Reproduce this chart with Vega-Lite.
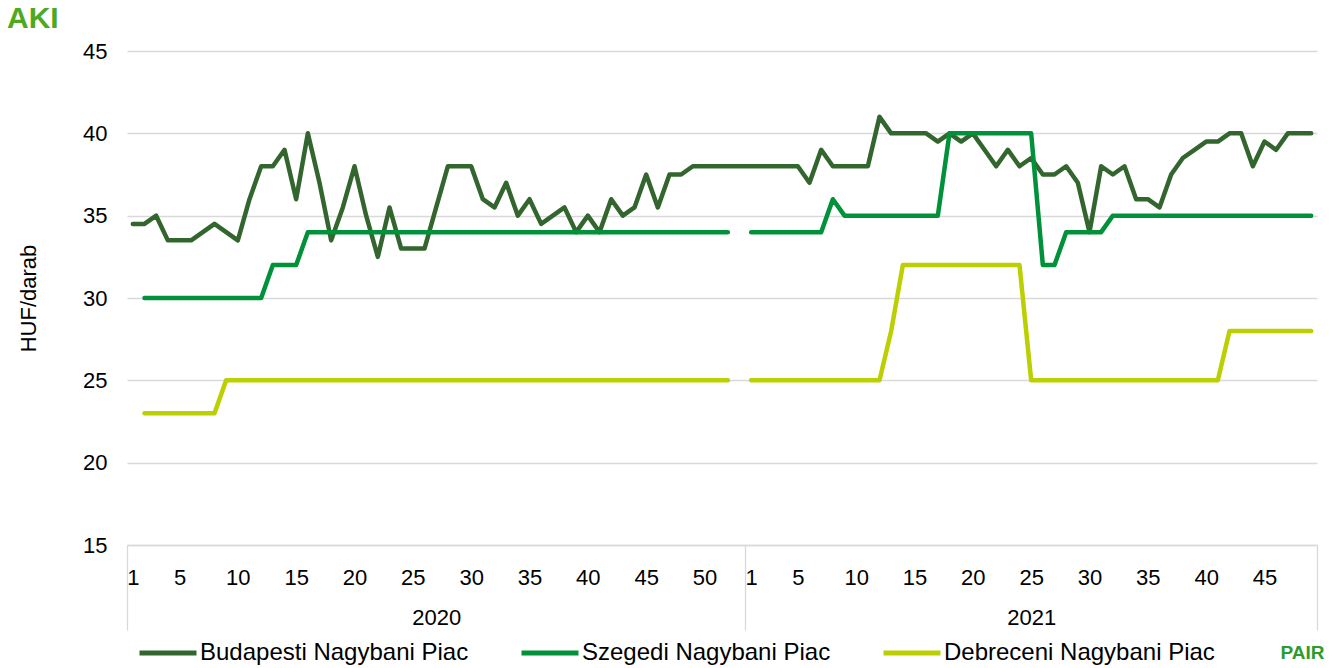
{
  "$schema": "https://vega.github.io/schema/vega-lite/v6.json",
  "width": 1190,
  "height": 494,
  "autosize": {"type": "none"},
  "padding": {"left": 127, "top": 51, "right": 19, "bottom": 123},
  "background": "white",
  "config": {"view": {"stroke": null}, "font": "Liberation Sans"},
  "title": {"text": "AKI", "anchor": "start", "frame": "group", "dx": -120, "offset": 6, "fontSize": 30, "fontWeight": "bold", "color": "#4DAA1E", "font": "Liberation Sans"},
  "data": {"values": [
    {"i":1,"year":2020,"week":1,"Budapesti Nagybani Piac":34.5,"Szegedi Nagybani Piac":null,"Debreceni Nagybani Piac":null},
    {"i":2,"year":2020,"week":2,"Budapesti Nagybani Piac":34.5,"Szegedi Nagybani Piac":30,"Debreceni Nagybani Piac":23},
    {"i":3,"year":2020,"week":3,"Budapesti Nagybani Piac":35,"Szegedi Nagybani Piac":30,"Debreceni Nagybani Piac":23},
    {"i":4,"year":2020,"week":4,"Budapesti Nagybani Piac":33.5,"Szegedi Nagybani Piac":30,"Debreceni Nagybani Piac":23},
    {"i":5,"year":2020,"week":5,"Budapesti Nagybani Piac":33.5,"Szegedi Nagybani Piac":30,"Debreceni Nagybani Piac":23},
    {"i":6,"year":2020,"week":6,"Budapesti Nagybani Piac":33.5,"Szegedi Nagybani Piac":30,"Debreceni Nagybani Piac":23},
    {"i":7,"year":2020,"week":7,"Budapesti Nagybani Piac":34,"Szegedi Nagybani Piac":30,"Debreceni Nagybani Piac":23},
    {"i":8,"year":2020,"week":8,"Budapesti Nagybani Piac":34.5,"Szegedi Nagybani Piac":30,"Debreceni Nagybani Piac":23},
    {"i":9,"year":2020,"week":9,"Budapesti Nagybani Piac":34,"Szegedi Nagybani Piac":30,"Debreceni Nagybani Piac":25},
    {"i":10,"year":2020,"week":10,"Budapesti Nagybani Piac":33.5,"Szegedi Nagybani Piac":30,"Debreceni Nagybani Piac":25},
    {"i":11,"year":2020,"week":11,"Budapesti Nagybani Piac":36,"Szegedi Nagybani Piac":30,"Debreceni Nagybani Piac":25},
    {"i":12,"year":2020,"week":12,"Budapesti Nagybani Piac":38,"Szegedi Nagybani Piac":30,"Debreceni Nagybani Piac":25},
    {"i":13,"year":2020,"week":13,"Budapesti Nagybani Piac":38,"Szegedi Nagybani Piac":32,"Debreceni Nagybani Piac":25},
    {"i":14,"year":2020,"week":14,"Budapesti Nagybani Piac":39,"Szegedi Nagybani Piac":32,"Debreceni Nagybani Piac":25},
    {"i":15,"year":2020,"week":15,"Budapesti Nagybani Piac":36,"Szegedi Nagybani Piac":32,"Debreceni Nagybani Piac":25},
    {"i":16,"year":2020,"week":16,"Budapesti Nagybani Piac":40,"Szegedi Nagybani Piac":34,"Debreceni Nagybani Piac":25},
    {"i":17,"year":2020,"week":17,"Budapesti Nagybani Piac":37,"Szegedi Nagybani Piac":34,"Debreceni Nagybani Piac":25},
    {"i":18,"year":2020,"week":18,"Budapesti Nagybani Piac":33.5,"Szegedi Nagybani Piac":34,"Debreceni Nagybani Piac":25},
    {"i":19,"year":2020,"week":19,"Budapesti Nagybani Piac":35.5,"Szegedi Nagybani Piac":34,"Debreceni Nagybani Piac":25},
    {"i":20,"year":2020,"week":20,"Budapesti Nagybani Piac":38,"Szegedi Nagybani Piac":34,"Debreceni Nagybani Piac":25},
    {"i":21,"year":2020,"week":21,"Budapesti Nagybani Piac":35,"Szegedi Nagybani Piac":34,"Debreceni Nagybani Piac":25},
    {"i":22,"year":2020,"week":22,"Budapesti Nagybani Piac":32.5,"Szegedi Nagybani Piac":34,"Debreceni Nagybani Piac":25},
    {"i":23,"year":2020,"week":23,"Budapesti Nagybani Piac":35.5,"Szegedi Nagybani Piac":34,"Debreceni Nagybani Piac":25},
    {"i":24,"year":2020,"week":24,"Budapesti Nagybani Piac":33,"Szegedi Nagybani Piac":34,"Debreceni Nagybani Piac":25},
    {"i":25,"year":2020,"week":25,"Budapesti Nagybani Piac":33,"Szegedi Nagybani Piac":34,"Debreceni Nagybani Piac":25},
    {"i":26,"year":2020,"week":26,"Budapesti Nagybani Piac":33,"Szegedi Nagybani Piac":34,"Debreceni Nagybani Piac":25},
    {"i":27,"year":2020,"week":27,"Budapesti Nagybani Piac":35.5,"Szegedi Nagybani Piac":34,"Debreceni Nagybani Piac":25},
    {"i":28,"year":2020,"week":28,"Budapesti Nagybani Piac":38,"Szegedi Nagybani Piac":34,"Debreceni Nagybani Piac":25},
    {"i":29,"year":2020,"week":29,"Budapesti Nagybani Piac":38,"Szegedi Nagybani Piac":34,"Debreceni Nagybani Piac":25},
    {"i":30,"year":2020,"week":30,"Budapesti Nagybani Piac":38,"Szegedi Nagybani Piac":34,"Debreceni Nagybani Piac":25},
    {"i":31,"year":2020,"week":31,"Budapesti Nagybani Piac":36,"Szegedi Nagybani Piac":34,"Debreceni Nagybani Piac":25},
    {"i":32,"year":2020,"week":32,"Budapesti Nagybani Piac":35.5,"Szegedi Nagybani Piac":34,"Debreceni Nagybani Piac":25},
    {"i":33,"year":2020,"week":33,"Budapesti Nagybani Piac":37,"Szegedi Nagybani Piac":34,"Debreceni Nagybani Piac":25},
    {"i":34,"year":2020,"week":34,"Budapesti Nagybani Piac":35,"Szegedi Nagybani Piac":34,"Debreceni Nagybani Piac":25},
    {"i":35,"year":2020,"week":35,"Budapesti Nagybani Piac":36,"Szegedi Nagybani Piac":34,"Debreceni Nagybani Piac":25},
    {"i":36,"year":2020,"week":36,"Budapesti Nagybani Piac":34.5,"Szegedi Nagybani Piac":34,"Debreceni Nagybani Piac":25},
    {"i":37,"year":2020,"week":37,"Budapesti Nagybani Piac":35,"Szegedi Nagybani Piac":34,"Debreceni Nagybani Piac":25},
    {"i":38,"year":2020,"week":38,"Budapesti Nagybani Piac":35.5,"Szegedi Nagybani Piac":34,"Debreceni Nagybani Piac":25},
    {"i":39,"year":2020,"week":39,"Budapesti Nagybani Piac":34,"Szegedi Nagybani Piac":34,"Debreceni Nagybani Piac":25},
    {"i":40,"year":2020,"week":40,"Budapesti Nagybani Piac":35,"Szegedi Nagybani Piac":34,"Debreceni Nagybani Piac":25},
    {"i":41,"year":2020,"week":41,"Budapesti Nagybani Piac":34,"Szegedi Nagybani Piac":34,"Debreceni Nagybani Piac":25},
    {"i":42,"year":2020,"week":42,"Budapesti Nagybani Piac":36,"Szegedi Nagybani Piac":34,"Debreceni Nagybani Piac":25},
    {"i":43,"year":2020,"week":43,"Budapesti Nagybani Piac":35,"Szegedi Nagybani Piac":34,"Debreceni Nagybani Piac":25},
    {"i":44,"year":2020,"week":44,"Budapesti Nagybani Piac":35.5,"Szegedi Nagybani Piac":34,"Debreceni Nagybani Piac":25},
    {"i":45,"year":2020,"week":45,"Budapesti Nagybani Piac":37.5,"Szegedi Nagybani Piac":34,"Debreceni Nagybani Piac":25},
    {"i":46,"year":2020,"week":46,"Budapesti Nagybani Piac":35.5,"Szegedi Nagybani Piac":34,"Debreceni Nagybani Piac":25},
    {"i":47,"year":2020,"week":47,"Budapesti Nagybani Piac":37.5,"Szegedi Nagybani Piac":34,"Debreceni Nagybani Piac":25},
    {"i":48,"year":2020,"week":48,"Budapesti Nagybani Piac":37.5,"Szegedi Nagybani Piac":34,"Debreceni Nagybani Piac":25},
    {"i":49,"year":2020,"week":49,"Budapesti Nagybani Piac":38,"Szegedi Nagybani Piac":34,"Debreceni Nagybani Piac":25},
    {"i":50,"year":2020,"week":50,"Budapesti Nagybani Piac":38,"Szegedi Nagybani Piac":34,"Debreceni Nagybani Piac":25},
    {"i":51,"year":2020,"week":51,"Budapesti Nagybani Piac":38,"Szegedi Nagybani Piac":34,"Debreceni Nagybani Piac":25},
    {"i":52,"year":2020,"week":52,"Budapesti Nagybani Piac":38,"Szegedi Nagybani Piac":34,"Debreceni Nagybani Piac":25},
    {"i":53,"year":2020,"week":53,"Budapesti Nagybani Piac":38,"Szegedi Nagybani Piac":null,"Debreceni Nagybani Piac":null},
    {"i":54,"year":2021,"week":1,"Budapesti Nagybani Piac":38,"Szegedi Nagybani Piac":34,"Debreceni Nagybani Piac":25},
    {"i":55,"year":2021,"week":2,"Budapesti Nagybani Piac":38,"Szegedi Nagybani Piac":34,"Debreceni Nagybani Piac":25},
    {"i":56,"year":2021,"week":3,"Budapesti Nagybani Piac":38,"Szegedi Nagybani Piac":34,"Debreceni Nagybani Piac":25},
    {"i":57,"year":2021,"week":4,"Budapesti Nagybani Piac":38,"Szegedi Nagybani Piac":34,"Debreceni Nagybani Piac":25},
    {"i":58,"year":2021,"week":5,"Budapesti Nagybani Piac":38,"Szegedi Nagybani Piac":34,"Debreceni Nagybani Piac":25},
    {"i":59,"year":2021,"week":6,"Budapesti Nagybani Piac":37,"Szegedi Nagybani Piac":34,"Debreceni Nagybani Piac":25},
    {"i":60,"year":2021,"week":7,"Budapesti Nagybani Piac":39,"Szegedi Nagybani Piac":34,"Debreceni Nagybani Piac":25},
    {"i":61,"year":2021,"week":8,"Budapesti Nagybani Piac":38,"Szegedi Nagybani Piac":36,"Debreceni Nagybani Piac":25},
    {"i":62,"year":2021,"week":9,"Budapesti Nagybani Piac":38,"Szegedi Nagybani Piac":35,"Debreceni Nagybani Piac":25},
    {"i":63,"year":2021,"week":10,"Budapesti Nagybani Piac":38,"Szegedi Nagybani Piac":35,"Debreceni Nagybani Piac":25},
    {"i":64,"year":2021,"week":11,"Budapesti Nagybani Piac":38,"Szegedi Nagybani Piac":35,"Debreceni Nagybani Piac":25},
    {"i":65,"year":2021,"week":12,"Budapesti Nagybani Piac":41,"Szegedi Nagybani Piac":35,"Debreceni Nagybani Piac":25},
    {"i":66,"year":2021,"week":13,"Budapesti Nagybani Piac":40,"Szegedi Nagybani Piac":35,"Debreceni Nagybani Piac":28},
    {"i":67,"year":2021,"week":14,"Budapesti Nagybani Piac":40,"Szegedi Nagybani Piac":35,"Debreceni Nagybani Piac":32},
    {"i":68,"year":2021,"week":15,"Budapesti Nagybani Piac":40,"Szegedi Nagybani Piac":35,"Debreceni Nagybani Piac":32},
    {"i":69,"year":2021,"week":16,"Budapesti Nagybani Piac":40,"Szegedi Nagybani Piac":35,"Debreceni Nagybani Piac":32},
    {"i":70,"year":2021,"week":17,"Budapesti Nagybani Piac":39.5,"Szegedi Nagybani Piac":35,"Debreceni Nagybani Piac":32},
    {"i":71,"year":2021,"week":18,"Budapesti Nagybani Piac":40,"Szegedi Nagybani Piac":40,"Debreceni Nagybani Piac":32},
    {"i":72,"year":2021,"week":19,"Budapesti Nagybani Piac":39.5,"Szegedi Nagybani Piac":40,"Debreceni Nagybani Piac":32},
    {"i":73,"year":2021,"week":20,"Budapesti Nagybani Piac":40,"Szegedi Nagybani Piac":40,"Debreceni Nagybani Piac":32},
    {"i":74,"year":2021,"week":21,"Budapesti Nagybani Piac":39,"Szegedi Nagybani Piac":40,"Debreceni Nagybani Piac":32},
    {"i":75,"year":2021,"week":22,"Budapesti Nagybani Piac":38,"Szegedi Nagybani Piac":40,"Debreceni Nagybani Piac":32},
    {"i":76,"year":2021,"week":23,"Budapesti Nagybani Piac":39,"Szegedi Nagybani Piac":40,"Debreceni Nagybani Piac":32},
    {"i":77,"year":2021,"week":24,"Budapesti Nagybani Piac":38,"Szegedi Nagybani Piac":40,"Debreceni Nagybani Piac":32},
    {"i":78,"year":2021,"week":25,"Budapesti Nagybani Piac":38.5,"Szegedi Nagybani Piac":40,"Debreceni Nagybani Piac":25},
    {"i":79,"year":2021,"week":26,"Budapesti Nagybani Piac":37.5,"Szegedi Nagybani Piac":32,"Debreceni Nagybani Piac":25},
    {"i":80,"year":2021,"week":27,"Budapesti Nagybani Piac":37.5,"Szegedi Nagybani Piac":32,"Debreceni Nagybani Piac":25},
    {"i":81,"year":2021,"week":28,"Budapesti Nagybani Piac":38,"Szegedi Nagybani Piac":34,"Debreceni Nagybani Piac":25},
    {"i":82,"year":2021,"week":29,"Budapesti Nagybani Piac":37,"Szegedi Nagybani Piac":34,"Debreceni Nagybani Piac":25},
    {"i":83,"year":2021,"week":30,"Budapesti Nagybani Piac":34,"Szegedi Nagybani Piac":34,"Debreceni Nagybani Piac":25},
    {"i":84,"year":2021,"week":31,"Budapesti Nagybani Piac":38,"Szegedi Nagybani Piac":34,"Debreceni Nagybani Piac":25},
    {"i":85,"year":2021,"week":32,"Budapesti Nagybani Piac":37.5,"Szegedi Nagybani Piac":35,"Debreceni Nagybani Piac":25},
    {"i":86,"year":2021,"week":33,"Budapesti Nagybani Piac":38,"Szegedi Nagybani Piac":35,"Debreceni Nagybani Piac":25},
    {"i":87,"year":2021,"week":34,"Budapesti Nagybani Piac":36,"Szegedi Nagybani Piac":35,"Debreceni Nagybani Piac":25},
    {"i":88,"year":2021,"week":35,"Budapesti Nagybani Piac":36,"Szegedi Nagybani Piac":35,"Debreceni Nagybani Piac":25},
    {"i":89,"year":2021,"week":36,"Budapesti Nagybani Piac":35.5,"Szegedi Nagybani Piac":35,"Debreceni Nagybani Piac":25},
    {"i":90,"year":2021,"week":37,"Budapesti Nagybani Piac":37.5,"Szegedi Nagybani Piac":35,"Debreceni Nagybani Piac":25},
    {"i":91,"year":2021,"week":38,"Budapesti Nagybani Piac":38.5,"Szegedi Nagybani Piac":35,"Debreceni Nagybani Piac":25},
    {"i":92,"year":2021,"week":39,"Budapesti Nagybani Piac":39,"Szegedi Nagybani Piac":35,"Debreceni Nagybani Piac":25},
    {"i":93,"year":2021,"week":40,"Budapesti Nagybani Piac":39.5,"Szegedi Nagybani Piac":35,"Debreceni Nagybani Piac":25},
    {"i":94,"year":2021,"week":41,"Budapesti Nagybani Piac":39.5,"Szegedi Nagybani Piac":35,"Debreceni Nagybani Piac":25},
    {"i":95,"year":2021,"week":42,"Budapesti Nagybani Piac":40,"Szegedi Nagybani Piac":35,"Debreceni Nagybani Piac":28},
    {"i":96,"year":2021,"week":43,"Budapesti Nagybani Piac":40,"Szegedi Nagybani Piac":35,"Debreceni Nagybani Piac":28},
    {"i":97,"year":2021,"week":44,"Budapesti Nagybani Piac":38,"Szegedi Nagybani Piac":35,"Debreceni Nagybani Piac":28},
    {"i":98,"year":2021,"week":45,"Budapesti Nagybani Piac":39.5,"Szegedi Nagybani Piac":35,"Debreceni Nagybani Piac":28},
    {"i":99,"year":2021,"week":46,"Budapesti Nagybani Piac":39,"Szegedi Nagybani Piac":35,"Debreceni Nagybani Piac":28},
    {"i":100,"year":2021,"week":47,"Budapesti Nagybani Piac":40,"Szegedi Nagybani Piac":35,"Debreceni Nagybani Piac":28},
    {"i":101,"year":2021,"week":48,"Budapesti Nagybani Piac":40,"Szegedi Nagybani Piac":35,"Debreceni Nagybani Piac":28},
    {"i":102,"year":2021,"week":49,"Budapesti Nagybani Piac":40,"Szegedi Nagybani Piac":35,"Debreceni Nagybani Piac":28}
  ]},
  "transform": [
    {"fold": ["Budapesti Nagybani Piac", "Szegedi Nagybani Piac", "Debreceni Nagybani Piac"], "as": ["series", "value"]}
  ],
  "mark": {"type": "line", "strokeWidth": 4.5, "strokeCap": "round", "strokeJoin": "round", "invalid": "break-paths-filter-domains"},
  "encoding": {
    "x": {
      "field": "i", "type": "quantitative",
      "scale": {"domain": [0.5, 102.5], "nice": false, "zero": false},
      "axis": {
        "values": [0.5, 1, 5, 10, 15, 20, 25, 27, 30, 35, 40, 45, 50, 53.5, 54, 58, 63, 68, 73, 78, 83, 88, 93, 98, 102.5],
        "labelExpr": "datum.value % 1 != 0 ? '' : datum.value == 27 ? ['', '2020'] : datum.value == 78 ? ['25', '2021'] : datum.value <= 53 ? '' + datum.value : '' + (datum.value - 53)",
        "labelOverlap": false, "labelBound": false, "labelFlush": false,
        "labelFontSize": 22, "labelColor": "#000000", "labelLineHeight": 40, "labelFont": "Liberation Sans",
        "grid": false, "domain": true, "domainColor": "#D9D9D9", "domainWidth": 1.3,
        "ticks": true, "tickSize": 85, "tickColor": "#D9D9D9", "tickWidth": 1.3,
        "tickOpacity": {"condition": {"test": "datum.value % 1 != 0", "value": 1}, "value": 0},
        "labelPadding": -63,
        "title": "PAIR", "titleX": 1175, "titleY": 98, "titleFontSize": 19, "titleColor": "#2E9B2E", "titleFontWeight": "bold", "titleFont": "Liberation Sans", "titleAnchor": "middle", "titleAlign": "center"
      }
    },
    "y": {
      "field": "value", "type": "quantitative",
      "scale": {"domain": [15, 45], "nice": false, "zero": false},
      "axis": {
        "values": [15, 20, 25, 30, 35, 40, 45],
        "grid": true, "gridColor": "#D9D9D9", "gridWidth": 1.3,
        "domain": false, "ticks": false,
        "labelFontSize": 22, "labelColor": "#000000", "labelPadding": 20, "labelFont": "Liberation Sans",
        "title": "HUF/darab", "titleFontSize": 22, "titleFontWeight": "normal", "titleColor": "#000000", "titlePadding": 42, "titleFont": "Liberation Sans"
      }
    },
    "color": {
      "field": "series", "type": "nominal",
      "scale": {"domain": ["Budapesti Nagybani Piac", "Szegedi Nagybani Piac", "Debreceni Nagybani Piac"], "range": ["#33662E", "#00913A", "#BCCF00"]},
      "legend": {
        "orient": "none", "legendX": 10, "legendY": 571, "direction": "horizontal", "title": null,
        "symbolType": "stroke", "symbolSize": 3249, "symbolStrokeWidth": 5,
        "labelFontSize": 24, "labelOffset": 1, "columnPadding": 42, "padding": 0,
        "labelColor": "#000000", "labelFont": "Liberation Sans", "labelLimit": 400
      }
    },
    "order": {"field": "i", "type": "quantitative"}
  }
}
